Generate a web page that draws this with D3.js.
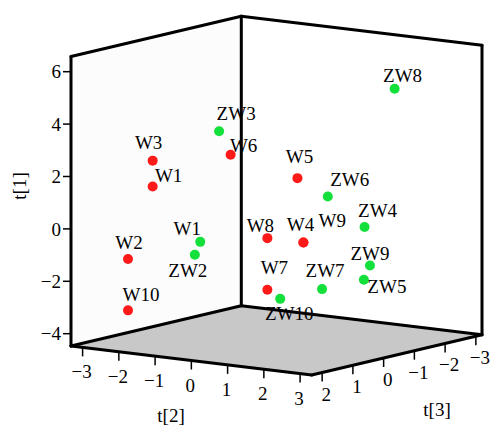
<!DOCTYPE html>
<html>
<head>
<meta charset="utf-8">
<script src="https://cdn.jsdelivr.net/npm/d3@7"></script>
<style>
  body { margin: 0; background: #fff; }
  text { font-family: "Liberation Serif", "Times New Roman", serif; font-size: 19px; fill: #000; }
</style>
</head>
<body>
<div id="chart"></div>
<script>
// sample scores (t[2], t[3], t[1])
const names = ["W3", "W1", "ZW3", "W6", "W5", "ZW6", "ZW8", "W2", "W1", "ZW2",
               "W10", "W8", "W9", "W4", "ZW4", "ZW9", "ZW5", "W7", "ZW7", "ZW10"];
const groups = ["W", "W", "ZW", "W", "W", "ZW", "ZW", "W", "ZW", "ZW",
                "W", "W", "W", "W", "ZW", "ZW", "ZW", "W", "ZW", "ZW"];
const t2 = [-2.00, -2.00, -0.93, -0.74, 0.34, 0.83, 1.91, -2.40, -1.23, -1.32,
            -2.40, -0.15, 0.90, 0.44, 1.42, 1.51, 1.41, -0.15, 0.74, 0.06];
const t3 = [1.24, 1.24, 0.34, 0.19, -0.71, -1.12, -2.02, 1.57, 0.60, 0.67,
            1.57, -0.31, -0.24, -0.79, -1.62, -1.69, -1.61, -0.31, -1.04, -0.48];
const t1 = [2.52, 1.53, 3.57, 2.66, 1.70, 0.97, 5.01, -1.21, -0.63, -1.12,
            -3.17, -0.56, -0.53, -0.76, -0.24, -1.71, -2.25, -2.53, -2.56, -2.89];

const t1Ticks = [-4, -2, 0, 2, 4, 6];
const t2Ticks = [-3, -2, -1, 0, 1, 2, 3];
const t3Ticks = [2, 1, 0, -1, -2, -3];

// label nudges [dx, dy] relative to each dot
const labelOffsets = [[-4, -12], [16, -5], [17, -11], [13, -3], [2, -15], [22, -10], [8, -7],
                      [1, -10], [-13, -7], [-7, 22], [13, -9], [-7, -6], [29, -15], [-3, -11],
                      [13, -10], [0, -5], [23, 13], [7, -16], [3, -12], [9, 21]];

const colors = { W: "#ff1a1a", ZW: "#14e03c" };

const width = 494, height = 426;

const svg = d3.select("#chart").append("svg")
    .attr("width", width)
    .attr("height", height);

// box limits
const t2Range = [-3.32, 3.32];
const t3Range = [2.34, -3.2];
const t1Range = [-4.47, 6.58];

const sx = d3.scaleLinear().domain(t2Range).range([0, 1]);
const sy = d3.scaleLinear().domain(t3Range).range([0, 1]);
const sz = d3.scaleLinear().domain(t1Range).range([0, 1]);

// oblique projection: origin is (t2 min, t3 max, t1 min)
const origin = [71, 346];
const ex = [240.7, 29];
const ey = [170.3, -40.3];
const ez = [0, -289.5];

function project(a, b, c) {
    let u = sx(a), v = sy(b), w = sz(c);
    return [origin[0] + u * ex[0] + v * ey[0] + w * ez[0],
            origin[1] + u * ex[1] + v * ey[1] + w * ez[1]];
}

const [a0, a1] = t2Range, [b0, b1] = t3Range, [c0, c1] = t1Range;

const leftWall = [project(a0, b0, c0), project(a0, b1, c0), project(a0, b1, c1), project(a0, b0, c1)];
const rightWall = [project(a0, b1, c0), project(a1, b1, c0), project(a1, b1, c1), project(a0, b1, c1)];
const floor = [project(a0, b0, c0), project(a0, b1, c0), project(a1, b1, c0), project(a1, b0, c0)];

const line = d3.line();

svg.append("path").attr("d", line(leftWall) + "Z").attr("fill", "#fcfcfc");
svg.append("path").attr("d", line(rightWall) + "Z").attr("fill", "#ffffff");
svg.append("path").attr("d", line(floor) + "Z").attr("fill", "#c8c8c8");

// points
const pts = names.map((n, i) => ({
    name: n, group: groups[i], p: project(t2[i], t3[i], t1[i]), off: labelOffsets[i]
}));

svg.selectAll(".dot")
    .data(pts)
    .enter().append("circle")
    .attr("class", "dot")
    .attr("cx", d => d.p[0])
    .attr("cy", d => d.p[1])
    .attr("r", 5)
    .attr("fill", d => colors[d.group]);

svg.selectAll(".lbl")
    .data(pts)
    .enter().append("text")
    .attr("class", "lbl")
    .attr("x", d => d.p[0] + d.off[0])
    .attr("y", d => d.p[1] + d.off[1])
    .attr("text-anchor", "middle")
    .text(d => d.name);

// box edges
const edges = [
    [project(a0, b0, c0), project(a0, b0, c1)],
    [project(a0, b0, c1), project(a0, b1, c1)],
    [project(a0, b1, c1), project(a0, b1, c0)],
    [project(a0, b1, c1), project(a1, b1, c1)],
    [project(a1, b1, c1), project(a1, b1, c0)],
    [project(a0, b0, c0), project(a0, b1, c0)],
    [project(a0, b1, c0), project(a1, b1, c0)],
    [project(a0, b0, c0), project(a1, b0, c0)],
    [project(a1, b0, c0), project(a1, b1, c0)]
];

svg.selectAll(".edge")
    .data(edges)
    .enter().append("path")
    .attr("class", "edge")
    .attr("d", d => line(d))
    .attr("stroke", "#000")
    .attr("stroke-width", 3)
    .attr("stroke-linecap", "round")
    .attr("fill", "none");

const fmt = d3.format("d");

// t[1] axis on front-left vertical edge
t1Ticks.forEach(v => {
    let p = project(a0, b0, v);
    svg.append("line")
        .attr("x1", p[0] - 8).attr("x2", p[0])
        .attr("y1", p[1]).attr("y2", p[1])
        .attr("stroke", "#000").attr("stroke-width", 1.5);
    svg.append("text")
        .attr("x", p[0] - 10).attr("y", p[1])
        .attr("dy", "0.35em")
        .attr("text-anchor", "end")
        .text(fmt(v));
});

// t[2] axis on front-left floor edge
t2Ticks.forEach(v => {
    let p = project(v, b0, c0);
    svg.append("line")
        .attr("x1", p[0]).attr("x2", p[0])
        .attr("y1", p[1]).attr("y2", p[1] + 9)
        .attr("stroke", "#000").attr("stroke-width", 1.5);
    svg.append("text")
        .attr("x", p[0] - 1).attr("y", p[1] + 31)
        .attr("text-anchor", "middle")
        .text(fmt(v));
});

// t[3] axis on front-right floor edge
t3Ticks.forEach(v => {
    let p = project(a1, v, c0);
    svg.append("line")
        .attr("x1", p[0]).attr("x2", p[0])
        .attr("y1", p[1]).attr("y2", p[1] + 9)
        .attr("stroke", "#000").attr("stroke-width", 1.5);
    svg.append("text")
        .attr("x", p[0] + 4).attr("y", p[1] + 28)
        .attr("text-anchor", "middle")
        .text(fmt(v));
});

// axis titles
svg.append("text")
    .attr("transform", "translate(26,186) rotate(-90)")
    .attr("text-anchor", "middle")
    .text("t[1]");

svg.append("text")
    .attr("x", 171).attr("y", 422)
    .attr("text-anchor", "middle")
    .text("t[2]");

svg.append("text")
    .attr("x", 437).attr("y", 416)
    .attr("text-anchor", "middle")
    .text("t[3]");
</script>
</body>
</html>
